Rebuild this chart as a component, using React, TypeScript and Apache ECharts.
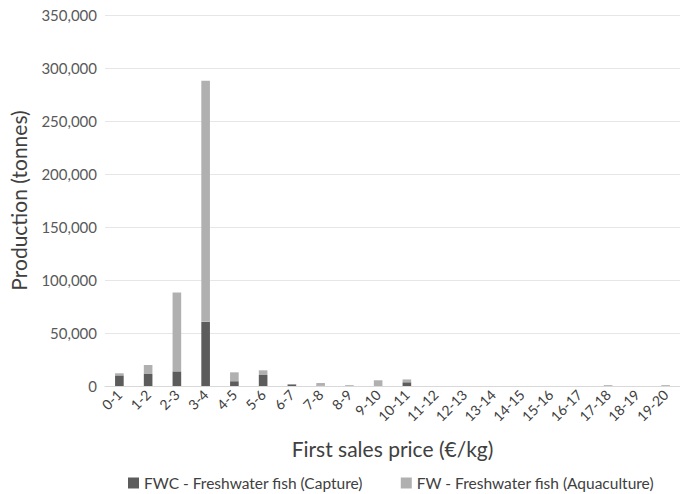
import React, { useEffect, useRef } from "react";
import * as echarts from "echarts";

const categories = [
  "0-1", "1-2", "2-3", "3-4", "4-5", "5-6", "6-7", "7-8", "8-9", "9-10",
  "10-11", "11-12", "12-13", "13-14", "14-15", "15-16", "16-17", "17-18", "18-19", "19-20",
];
const capture = [10000, 11300, 13800, 60500, 4500, 10400, 1500, 300, 0, 0, 3500, 0, 0, 0, 0, 0, 0, 0, 0, 0];
const aquaculture = [2000, 8500, 74400, 227500, 8400, 4400, 200, 2500, 800, 5400, 2700, 0, 0, 0, 0, 0, 0, 800, 0, 800];
const seriesNames = ["FWC - Freshwater fish (Capture)", "FW - Freshwater fish (Aquaculture)"];

const FONT = "Lato, 'Open Sans', sans-serif";

export default function App() {
  const ref = useRef<HTMLDivElement>(null);
  useEffect(() => {
    if (!ref.current) return;
    const chart = echarts.init(ref.current, null, { renderer: "svg" });
    chart.setOption({
      animation: false,
      backgroundColor: "#ffffff",
      textStyle: { fontFamily: FONT },
      grid: { left: 101, top: 15, width: 584, height: 371 },
      legend: {
        top: 475,
        left: 128,
        padding: 0,
        itemWidth: 11,
        itemHeight: 11,
        itemGap: 38,
        icon: "rect",
        textStyle: { fontFamily: FONT, fontSize: 15.5, color: "#404040" },
        data: seriesNames,
      },
      xAxis: {
        type: "category",
        data: categories,
        name: "First sales price (€/kg)",
        nameLocation: "middle",
        nameGap: 52,
        nameTextStyle: { fontFamily: FONT, fontSize: 21, color: "#404040" },
        axisLine: { lineStyle: { color: "#d9d9d9" } },
        axisTick: { show: false },
        axisLabel: { rotate: 45, fontSize: 14, color: "#404040", fontFamily: FONT, interval: 0, margin: 6 },
      },
      yAxis: {
        type: "value",
        min: 0,
        max: 350000,
        interval: 50000,
        name: "Production (tonnes)",
        nameLocation: "middle",
        nameGap: 76,
        nameTextStyle: { fontFamily: FONT, fontSize: 21, color: "#404040" },
        axisLabel: {
          fontSize: 15,
          color: "#595959",
          fontFamily: FONT,
          margin: 8,
          formatter: (v: number) => v.toLocaleString("en-US"),
        },
        splitLine: { lineStyle: { color: "#e6e6e6" } },
      },
      series: [
        {
          name: seriesNames[0],
          type: "bar",
          stack: "total",
          data: capture,
          barWidth: "30%",
          itemStyle: { color: "#5c5c5c" },
        },
        {
          name: seriesNames[1],
          type: "bar",
          stack: "total",
          data: aquaculture,
          barWidth: "30%",
          itemStyle: { color: "#b0b0b0" },
        },
      ],
    });
    return () => chart.dispose();
  }, []);
  return <div ref={ref} style={{ position: "absolute", left: 0, top: 0, width: 680, height: 494 }} />;
}
